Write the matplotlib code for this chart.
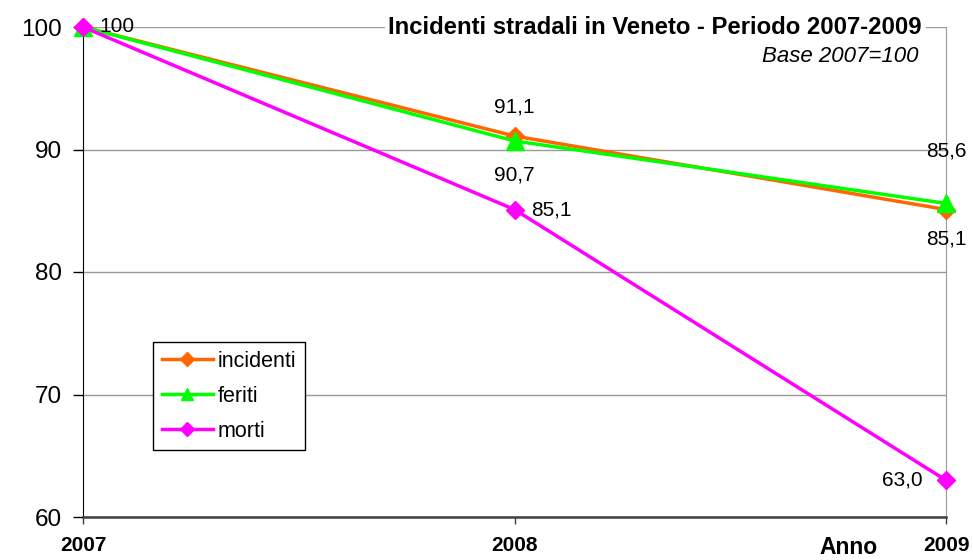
import numpy as np
import matplotlib.pyplot as plt

plt.rcParams['font.family'] = ['Liberation Sans', 'DejaVu Sans']

# Dati
anni = [2007, 2008, 2009]
incidenti = [100, 91.1, 85.1]
feriti = [100, 90.7, 85.6]
morti = [100, 85.1, 63.0]

serie = [
    ("incidenti", incidenti, "#FF6600", "D"),
    ("feriti", feriti, "#00FF00", "^"),
    ("morti", morti, "#FF00FF", "D"),
]

fig = plt.figure(figsize=(9.73, 5.6), dpi=100)
ax = fig.add_axes([83 / 973, 1 - 517 / 560, (946 - 83) / 973, (517 - 27) / 560])

for nome, vals, col, mk in serie:
    ms = 13 if mk == "^" else 9.5
    ax.plot(anni, vals, color=col, lw=2.5, marker=mk, ms=ms,
            label=nome, clip_on=False, zorder=3)

ax.set_xlim(2007, 2009)
ax.set_ylim(60, 100)
ax.set_yticks([60, 70, 80, 90, 100])
ax.set_xticks(anni)
ax.set_xticklabels([str(a) for a in anni], fontweight="bold", fontsize=15)
ax.tick_params(axis="y", labelsize=17.5, length=7, width=1, direction="out", pad=8)
ax.tick_params(axis="x", length=5, width=1, color="#404040", pad=9)

ax.grid(axis="y", color="#999999", lw=1)
ax.spines["top"].set_visible(False)
ax.spines["right"].set_color("#999999")
ax.spines["left"].set_color("black")
ax.spines["bottom"].set_color("#404040")
ax.spines["bottom"].set_linewidth(1.8)
ax.set_axisbelow(True)

# etichette valori
fs = 15
etichette = [
    ("100", 2007, 100, (12, 0), "left", "center"),
    ("91,1", 2008, incidenti[1], (0, 21), "center", "center"),
    ("90,7", 2008, feriti[1], (0, -24.5), "center", "center"),
    ("85,1", 2008, morti[1], (12, 0), "left", "center"),
    ("85,6", 2009, feriti[2], (0, 38), "center", "center"),
    ("85,1", 2009, incidenti[2], (0, -21.5), "center", "center"),
    ("63,0", 2009, morti[2], (-17, 0), "right", "center"),
]
for testo, xx, yy, off, ha, va in etichette:
    ax.annotate(testo, (xx, yy), xytext=off, textcoords="offset points",
                ha=ha, va=va, fontsize=fs, zorder=6)

# titolo
ax.text((922 - 83) / 863, 1.0, "Incidenti stradali in Veneto - Periodo 2007-2009",
        transform=ax.transAxes, ha="right", va="center", fontsize=17.2,
        fontweight="bold", zorder=5,
        bbox=dict(facecolor="white", edgecolor="none", pad=2.5))
ax.text((919 - 83) / 863, 1 - 30 / 490, "Base 2007=100", transform=ax.transAxes,
        ha="right", va="center", fontsize=16, style="italic")

fig.text(848 / 973, 1 - 547 / 560, "Anno", ha="center", va="center",
         fontsize=16.5, fontweight="bold")

leg = ax.legend(loc="upper left", bbox_to_anchor=((153 - 83) / 863, 1 - 315 / 490),
                borderaxespad=0, frameon=True, fancybox=False, edgecolor="black",
                fontsize=15.5, handlelength=2.4, handletextpad=0.2,
                labelspacing=0.65, borderpad=0.4, framealpha=1, markerscale=0.7)
leg.get_frame().set_linewidth(1)

fig.savefig("out.png", dpi=100)
